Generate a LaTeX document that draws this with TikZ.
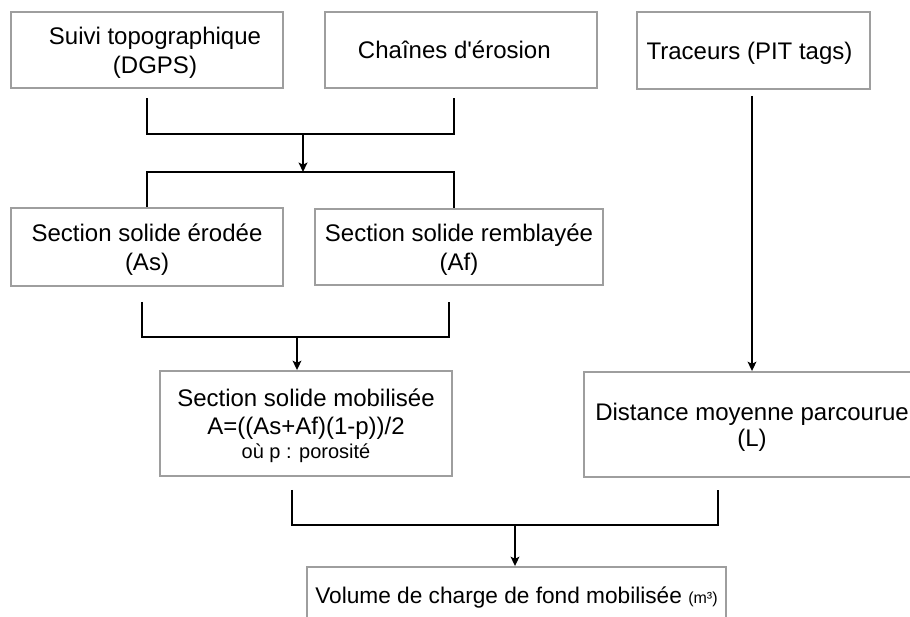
\documentclass[tikz,border=0pt]{standalone}
\usepackage{fontspec}
\setmainfont{Liberation Sans}
\usetikzlibrary{arrows.meta}

\begin{document}
\begin{tikzpicture}[
  x=0.75pt, y=-0.75pt,
  box/.style={draw=black!38, line width=1.4pt, align=center, inner sep=0pt,
    text depth=0pt, font=\fontsize{18}{21.5}\selectfont},
  bar/.style={line width=1.5pt},
  arrow/.style={line width=1.5pt, -{Stealth[length=7pt,width=6.5pt,inset=1.5pt]}}
]
\clip (0,0) rectangle (910,617);
\node[box, minimum width=204pt, minimum height=57pt] (suivi) at (147,50) {\hspace{12pt}Suivi topographique\\\hspace{12pt}(DGPS)};
\node[box, minimum width=204pt, minimum height=57pt] (chaines) at (461,50) {Chaînes d\textquotesingle érosion\hspace{10pt}};
\node[box, minimum width=174.75pt, minimum height=57.75pt] (traceurs) at (753.5,50.5) {Traceurs (PIT tags)\hspace{6pt}};
\node[box, minimum width=204pt, minimum height=58.5pt] (erodee) at (147,247) {Section solide érodée\\(As)};
\node[box, minimum width=216pt, minimum height=57pt] (remblayee) at (459,247) {Section solide remblayée\\(Af)};
\node[box, minimum width=219pt, minimum height=78.75pt] (mobilisee) at (306,423.5) {Section solide mobilisée\\[-1pt]A=((As+Af)(1-p))/2\\[-3.5pt]{\fontsize{15}{18}\selectfont où p : porosité}};
\node[box, minimum width=252pt, minimum height=78.75pt] (distance) at (752,424.5) {Distance moyenne parcourue\\[-2pt](L)};
\node[box, minimum width=314.25pt, minimum height=42pt] (volume) at (516.5,595) {\fontsize{17}{20}\selectfont Volume de charge de fond mobilisée {\fontsize{12}{14}\selectfont(m³)}};
\coordinate (j1) at (303,134);
\coordinate (j2) at (303,172);
\coordinate (j3) at (297,337);
\coordinate (j4) at (515,525);
\coordinate (t1) at (752,96);
\draw[bar] ([yshift=-7pt]suivi.south) |- (j1) -| ([xshift=-5pt,yshift=-7pt]chaines.south);
\draw[arrow] (j1) -- (j2);
\draw[bar] (erodee.north) |- (j2) -| ([xshift=-3.75pt]remblayee.north);
\draw[bar] ([xshift=-3.75pt,yshift=-11.25pt]erodee.south) |- (j3) -| ([xshift=-7.5pt,yshift=-12pt]remblayee.south);
\draw[arrow] (j3) -- (j3 |- mobilisee.north);
\draw[arrow] (t1) -- (t1 |- distance.north);
\draw[bar] ([xshift=-10.5pt,yshift=-9.75pt]mobilisee.south) |- (j4) -| ([xshift=-25.5pt,yshift=-9pt]distance.south);
\draw[arrow] (j4) -- (j4 |- volume.north);
\end{tikzpicture}
\end{document}
